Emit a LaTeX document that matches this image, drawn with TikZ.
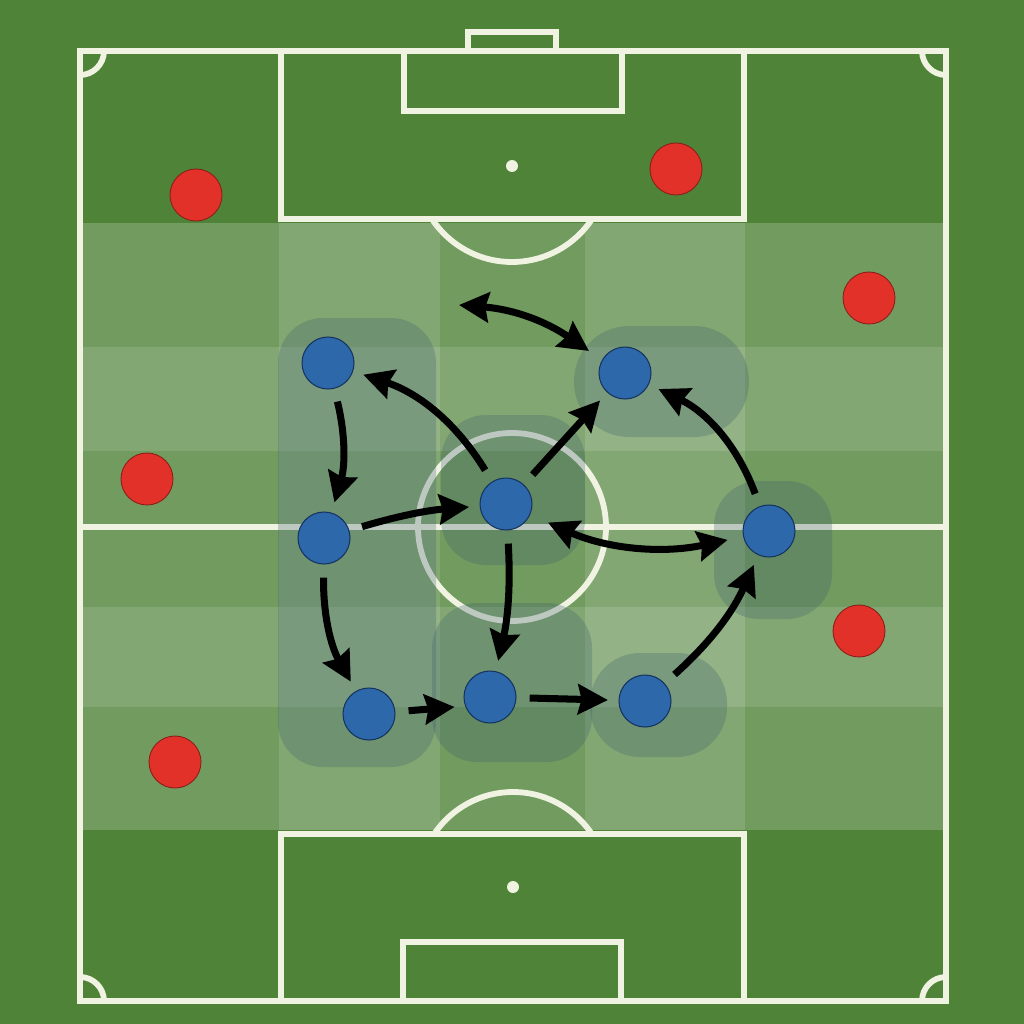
\documentclass[tikz,border=0pt]{standalone}
\usetikzlibrary{arrows.meta,positioning,calc}
\definecolor{pitch}{RGB}{78,131,56}
\definecolor{chalk}{RGB}{240,243,226}
\definecolor{home}{RGB}{44,104,170}
\definecolor{homeedge}{RGB}{22,52,95}
\definecolor{away}{RGB}{226,49,41}
\definecolor{awayedge}{RGB}{140,30,25}
\definecolor{zone}{RGB}{60,92,108}

\begin{document}
\begin{tikzpicture}[x=0.02cm,y=-0.02cm,
    pitchline/.style={chalk,line width=3.3pt},
    homeplayer/.style={circle,fill=home,draw=homeedge,line width=0.6pt,minimum size=1.04cm,inner sep=0pt},
    awayplayer/.style={circle,fill=away,draw=awayedge,line width=0.5pt,minimum size=1.04cm,inner sep=0pt},
    pass/.style={line width=4pt,-{Stealth[length=17pt,width=17pt,inset=2pt]},shorten <=7.5pt,shorten >=6pt},
    twoway/.style={pass,{Stealth[length=17pt,width=17pt,inset=2pt]}-{Stealth[length=17pt,width=17pt,inset=2pt]}},
    area/.style={fill=zone,fill opacity=0.28}]
      \useasboundingbox (0,0) rectangle (1024,1024);
      % Pitch
      \fill[pitch] (0,0) rectangle (1024,1024);
      % Zones
      \fill[white,opacity=0.2] (83,223) rectangle (943,830);
      \foreach \a/\b in {279/440,585/745}
        \fill[white,opacity=0.13] (\a,223) rectangle (\b,830);
      \foreach \a/\b in {347/451,607/707}
        \fill[white,opacity=0.13] (83,\a) rectangle (943,\b);
      % Lines
      \draw[pitchline] (80,51) rectangle (946,1001);
      \draw[pitchline] (80,527) -- (946,527);
      \draw[pitchline] (512,527) circle[radius=94];
      \draw[pitchline] (281,51) rectangle (744,219);
      \draw[pitchline] (404,51) rectangle (622,111);
      \draw[pitchline] (468,51) -- (468,32) -- (556,32) -- (556,51);
      \fill[chalk] (512,166) circle[radius=6];
      \draw[pitchline] (281,834) rectangle (744,1001);
      \draw[pitchline] (403,942) rectangle (621,1001);
      \fill[chalk] (513,887) circle[radius=6];
      \begin{scope}
        \clip (0,219) rectangle (1024,400);
        \draw[pitchline] (512,166) circle[radius=96];
      \end{scope}
      \begin{scope}
        \clip (0,700) rectangle (1024,834);
        \draw[pitchline] (513,887) circle[radius=95];
      \end{scope}
      \begin{scope}
        \clip (80,51) rectangle (946,1001);
        \foreach \c in {(80,51),(946,51),(80,1001),(946,1001)}
          \draw[pitchline] \c circle[radius=24];
      \end{scope}
      % Units
      \fill[area,rounded corners=0.9cm] (278,318) rectangle (436,767);
      \fill[area,rounded corners=0.9cm] (441,415) rectangle (585,565);
      \fill[area,rounded corners=1.1cm] (574,326) rectangle (749,437);
      \fill[area,rounded corners=0.9cm] (714,481) rectangle (832,619);
      \fill[area,rounded corners=0.9cm] (432,603) rectangle (592,762);
      \fill[area,rounded corners=1cm] (590,653) rectangle (727,757);
      % Opponents
      \foreach \x/\y [count=\i] in {196/195,676/169,869/298,147/479,859/631,175/762}
        \node[awayplayer] (away\i) at (\x,\y) {};
      % Players
      \node[homeplayer] (lt) at (328,363) {};
      \node[homeplayer] (rt) at (625,373) {};
      \node[homeplayer] (cm) at (506,504) {};
      \node[homeplayer] (lm) at (324,538) {};
      \node[homeplayer] (rm) at (769,531) {};
      \node[homeplayer] (lb) at (369,714) {};
      \node[homeplayer] (cb) at (490,697) {};
      \node[homeplayer] (rb) at (645,701) {};
      \coordinate (swapl) at (459,305);
      \coordinate (swapr) at (589,351);
      % Passes
      \draw[pass] (lt) to[bend left=15] (lm);
      \draw[pass] (lm) to[bend right=15] (lb);
      \draw[pass] (lb) -- (cb.200);
      \draw[pass] (cb) -- (rb);
      \draw[pass] (rb) to[bend right=12] (rm);
      \draw[pass] (rm) to[bend right=22] (rt);
      \draw[pass] (cm) to[bend right=20] (lt);
      \draw[pass] (cm) -- (rt);
      \draw[pass] (lm) to[bend left=6] (cm);
      \draw[pass] (cm) to[bend left=8] (cb);
      \draw[twoway,shorten <=11pt,shorten >=9pt] (cm) to[bend right=18] (rm);
      \draw[twoway,shorten <=0pt,shorten >=0pt] (swapl) to[bend left=15] (swapr);
    \end{tikzpicture}
\end{document}
